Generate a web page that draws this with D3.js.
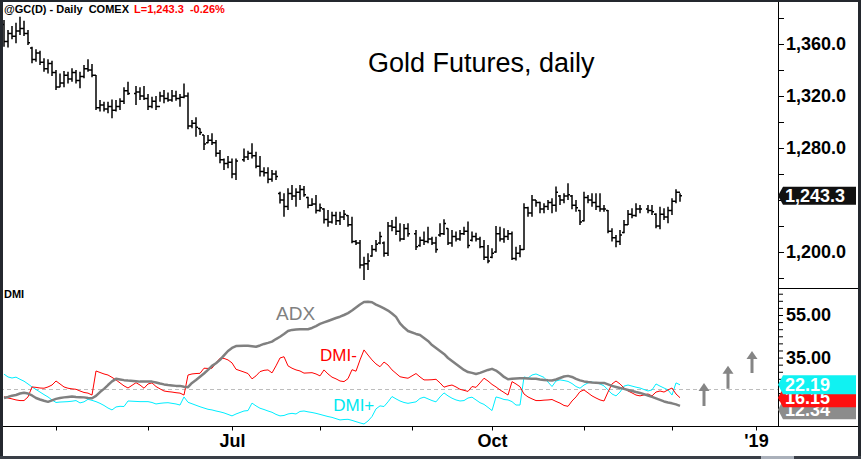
<!DOCTYPE html>
<meta charset="utf-8">
<div id="chart"></div>
<script src="https://d3js.org/d3.v7.min.js"></script>
<style type="text/css">
body { margin: 0; background: #fff; }
text { font-family: "Liberation Sans", Arial, sans-serif; }
.ohlc line { stroke: #000; stroke-width: 1.5; }
.adx { fill: none; stroke: #808080; stroke-width: 2.5; stroke-linejoin: round; }
.dmi-minus { fill: none; stroke: #ff0000; stroke-width: 1; }
.dmi-plus { fill: none; stroke: #00eeff; stroke-width: 1; }
.axis path { display: none; }
.axis line { stroke: #000; }
.axis text { font-weight: bold; fill: #000; }
</style>
<script>

// trading calendar (x axis counts weekdays, exchange holidays leave an empty slot)
var firstDay = "2018-04-12";
var lastSlotDay = "2019-01-04";
var holidays = ["2018-05-28", "2018-07-04", "2018-09-03", "2018-11-22"];
var monthTicks = ["2018-05", "2018-06", "2018-07", "2018-08", "2018-09", "2018-10", "2018-11", "2018-12", "2019-01"];
var monthLabels = ["", "", "Jul", "", "", "Oct", "", "", "'19"];

// daily bars, @GC continuous
var opens = [1375,1362,1368,1366,1370,1372,1368,1357,1348,1353,
1346,1341,1345,1338,1327,1330,1336,1333,1338,1332,
1335,1341,1340,1336,1311,1313,1310,1312,1309,1312,
1316,1324,1322,1323,1320,1318,1312,1316,1312,1320,
1318,1317,1320,1318,1319,1320,1297,1299,1295,1290,
1284,1286,1284,1276,1271,1268,1269,1260,1271,1273,
1276,1274,1266,1262,1261,1256,1260,1245,1240,1235,
1245,1243,1246,1248,1242,1236,1237,1232,1233,1225,
1223,1228,1224,1227,1228,1221,1208,1207,1190,1191,
1197,1202,1207,1207,1199,1220,1219,1216,1210,1218,
1214,1205,1209,1208,1210,1207,1213,1214,1218,1207,
1212,1210,1214,1216,1209,1212,1210,1204,1196,1196,
1200,1214,1210,1212,1214,1195,1199,1202,1234,1230,
1240,1238,1233,1235,1238,1236,1243,1240,1243,1243,
1236,1232,1224,1242,1240,1238,1235,1233,1232,1216,
1211,1208,1215,1221,1229,1228,1233,1233,1232,1229,
1220,1229,1227,1232,1239,1246];
var highs = [1378.5,1370.8,1373.8,1376.4,1381.0,1377.9,1370.8,1357.9,1355.9,1354.9,
1349.0,1348.2,1347.2,1340.0,1337.4,1339.2,1338.7,1341.3,1340.0,1338.7,
1343.8,1348.2,1344.6,1336.2,1316.9,1315.6,1315.6,1317.4,1316.9,1318.2,
1326.7,1331.0,1327.7,1326.7,1327.7,1321.5,1319.5,1320.0,1323.3,1324.6,
1322.6,1324.6,1324.1,1321.5,1329.7,1322.6,1301.5,1303.6,1295.1,1290.0,
1290.0,1291.3,1286.1,1278.5,1272.0,1273.8,1272.0,1272.0,1279.7,1277.9,
1283.6,1277.2,1273.8,1265.1,1265.1,1263.1,1262.6,1246.4,1245.1,1249.0,
1251.5,1249.0,1251.5,1250.8,1242.5,1241.3,1243.8,1237.4,1233.6,1232.3,
1231.0,1231.0,1231.0,1232.3,1228.4,1227.2,1209.2,1209.2,1196.4,1199.0,
1205.4,1209.2,1215.6,1208.0,1223.0,1224.6,1227.2,1222.1,1221.6,1222.1,
1216.9,1211.8,1215.7,1219.5,1211.8,1211.8,1222.1,1225.2,1218.2,1216.9,
1215.7,1216.9,1219.5,1223.4,1215.7,1214.9,1211.8,1209.3,1205.4,1202.8,
1220.0,1219.5,1218.2,1216.9,1215.7,1204.1,1205.4,1237.5,1234.9,1243.9,
1240.0,1238.7,1237.5,1240.0,1241.3,1250.3,1243.9,1245.2,1252.8,1243.9,
1240.0,1232.3,1246.4,1243.9,1245.2,1245.2,1245.2,1236.2,1232.3,1218.2,
1213.1,1216.9,1224.6,1232.3,1233.6,1237.5,1236.2,1236.2,1236.2,1229.8,
1234.9,1233.6,1234.9,1241.3,1248.2,1245.2];
var lows = [1357.9,1357.4,1363.6,1360.5,1366.9,1366.2,1359.2,1345.1,1346.4,1343.8,
1338.7,1337.4,1335.4,1324.6,1326.7,1326.7,1329.7,1331.0,1329.7,1325.9,
1333.6,1338.7,1334.4,1309.2,1308.0,1308.0,1306.7,1302.8,1308.0,1309.2,
1313.8,1320.8,1313.1,1316.9,1316.9,1309.2,1310.5,1309.2,1315.6,1314.4,
1315.6,1315.6,1316.4,1311.8,1318.2,1294.4,1295.1,1288.7,1290.0,1278.5,
1283.6,1282.3,1273.3,1268.2,1263.1,1264.4,1256.7,1255.4,1269.5,1270.8,
1272.0,1264.4,1258.0,1258.0,1252.8,1254.1,1255.4,1237.4,1227.2,1232.3,
1240.0,1234.9,1240.0,1242.5,1233.6,1235.4,1229.7,1231.0,1222.0,1219.5,
1222.0,1220.8,1220.8,1224.6,1219.5,1206.7,1205.4,1187.4,1178.5,1186.1,
1196.4,1200.2,1206.0,1196.4,1197.0,1216.0,1213.1,1208.0,1209.3,1211.8,
1201.6,1204.1,1205.4,1206.7,1205.4,1199.5,1211.8,1213.1,1205.4,1204.1,
1208.0,1208.7,1213.1,1202.8,1208.0,1208.0,1202.8,1193.9,1191.3,1195.2,
1199.5,1208.0,1207.2,1209.3,1193.9,1193.4,1195.9,1201.6,1227.2,1227.2,
1234.9,1229.8,1229.8,1232.3,1229.8,1231.0,1236.2,1237.5,1240.0,1232.8,
1231.0,1220.8,1223.4,1237.5,1234.9,1232.3,1231.0,1231.0,1214.4,1208.0,
1203.6,1205.4,1214.4,1220.8,1225.9,1227.2,1229.8,1229.8,1228.5,1218.2,
1217.5,1224.6,1222.1,1228.5,1237.5,1238.7];
var closes = [1362,1368,1366,1370,1372,1368,1361,1348,1353,1346,
1341,1345,1338,1327,1330,1336,1333,1338,1332,1335,
1341,1340,1336,1311,1313,1310,1312,1309,1312,1316,
1324,1322,1323,1320,1318,1312,1316,1312,1320,1318,
1317,1320,1318,1319,1320,1297,1299,1296,1292,1283,
1286,1284,1276,1271,1268,1269,1260,1270,1273,1276,
1274,1266,1262,1261,1256,1260,1258,1240,1235,1245,
1243,1246,1248,1244,1236,1237,1232,1234,1225,1223,
1228,1224,1227,1229,1221,1208,1207,1190,1191,1193,
1202,1206,1212,1199,1220,1219,1216,1210,1218,1214,
1204,1209,1208,1210,1207,1202,1214,1222,1207,1212,
1210,1214,1216,1205,1212,1210,1204,1196,1193,1199,
1214,1210,1212,1214,1195,1199,1202,1234,1230,1240,
1238,1233,1235,1238,1236,1246,1240,1243,1244,1236,
1234,1223,1242,1240,1238,1235,1233,1233,1216,1211,
1208,1213,1221,1229,1228,1233,1233,1232,1231,1220,
1229,1227,1232,1239,1246,1243.3];

// DMI study
var adx = [16.0,16.5,17.1,17.4,18.1,18.5,18.1,17.2,16.0,15.3,
14.7,14.2,14.9,15.6,16.0,16.3,16.5,16.7,16.5,16.4,
16.3,16.0,15.9,17.0,18.8,20.3,22.1,23.8,25.0,24.7,
24.4,24.2,23.9,23.7,23.7,23.7,23.7,23.3,22.8,22.4,
22.1,21.9,21.7,21.7,21.3,21.1,23.1,24.5,26.0,27.5,
29.2,31.1,32.3,33.9,36.0,38.1,39.5,40.4,40.6,40.5,
40.3,40.1,40.7,41.4,41.9,42.5,43.7,44.8,46.1,47.5,
48.0,48.2,48.3,48.3,48.3,48.9,49.8,50.8,51.5,52.2,
52.9,53.6,54.2,55.0,55.9,57.1,58.5,59.9,61.1,61.2,
61.0,59.9,59.0,58.1,57.1,55.7,54.1,51.1,49.1,47.5,
46.1,45.6,44.2,42.8,40.9,39.5,38.1,36.7,34.8,33.4,
32.0,30.6,29.2,28.2,27.8,27.3,27.8,28.5,29.2,29.7,
28.9,27.5,25.9,24.8,25.0,25.2,25.3,25.3,25.2,25.1,
25.0,24.7,24.5,24.3,24.2,24.7,25.4,26.1,26.4,25.9,
25.0,24.3,23.8,23.5,23.3,23.2,23.1,23.1,22.4,21.7,
21.2,20.7,20.3,19.8,19.3,18.8,18.4,17.2,16.5,15.8,
15.1,14.4,13.9,13.5,13.0,12.34];
var dmiMinus = [16.6,16.0,15.6,15.1,14.8,14.8,16.5,21.2,21.0,20.7,
20.6,21.2,22.1,24.0,22.6,21.2,20.6,20.3,20.1,19.3,
18.6,18.3,17.4,28.7,28.0,27.3,26.8,25.7,24.5,23.1,
21.7,20.7,23.2,22.1,20.6,22.6,23.1,21.4,20.3,19.3,
19.0,18.8,18.5,18.3,17.4,26.8,27.3,27.5,27.6,30.0,
29.9,30.0,32.5,34.7,34.6,33.9,32.5,29.5,28.2,27.5,
25.0,26.4,28.4,29.0,29.2,27.8,31.1,34.8,35.4,31.1,
30.0,29.2,28.7,27.7,27.8,27.9,27.3,26.4,29.2,27.3,
25.8,25.0,24.0,23.7,25.1,29.3,28.6,33.9,38.6,36.2,
33.9,32.0,30.7,32.9,31.5,29.2,27.6,26.0,25.6,25.3,
27.5,25.9,24.5,24.5,24.6,24.8,23.1,21.1,21.7,22.1,
21.2,20.1,19.6,19.1,21.4,21.0,23.1,25.3,24.0,22.4,
21.2,19.8,18.6,17.4,23.7,22.6,21.3,17.9,16.5,15.6,
14.8,14.8,15.0,15.1,15.3,14.4,13.6,12.5,12.1,14.6,
16.5,19.0,19.8,18.4,17.0,16.0,15.1,14.6,18.8,22.6,
24.0,22.6,20.7,19.3,18.4,17.4,17.0,17.9,17.0,18.8,
19.3,18.8,19.8,20.7,17.9,16.15];
var dmiPlus = [27.2,25.9,25.4,25.8,24.8,23.9,22.6,21.2,20.0,18.8,
17.6,16.5,15.1,13.9,14.1,14.2,14.3,14.5,14.8,13.7,
14.2,15.4,14.9,14.3,13.5,12.5,11.3,10.4,11.8,12.1,
12.0,14.6,14.4,14.3,14.3,14.3,13.9,13.2,13.5,13.7,
13.8,13.5,13.2,12.7,16.5,14.0,13.3,12.6,11.9,11.3,
10.7,10.4,9.9,9.5,9.0,8.3,7.6,8.5,9.9,10.1,
13.6,12.3,11.2,10.6,9.9,9.3,8.3,7.6,7.8,8.5,
8.8,8.5,9.7,9.9,9.5,9.2,8.8,8.3,7.8,7.3,
6.9,6.3,5.7,5.9,6.0,5.5,4.9,4.3,3.8,5.2,
7.3,10.9,12.3,12.0,14.2,16.7,15.6,14.6,13.9,13.5,
14.2,15.8,16.4,15.6,14.8,14.2,16.5,18.4,17.0,15.9,
15.1,14.6,14.8,16.0,16.4,15.1,13.8,13.0,11.6,10.1,
16.5,16.0,15.3,15.1,14.3,12.7,12.7,25.9,25.4,26.8,
27.3,26.5,25.7,23.5,21.4,24.0,24.5,24.2,23.8,22.8,
21.4,20.6,22.1,23.1,23.5,23.1,22.6,21.7,19.8,17.9,
17.0,18.8,21.6,22.1,21.6,21.1,20.7,19.3,19.8,22.6,
21.6,20.7,19.8,17.4,23.1,22.19];

var priceTicks = [1180, 1200, 1220, 1240, 1260, 1280, 1300, 1320, 1340, 1360, 1380];
var priceLabels = [1200, 1280, 1320, 1360];   // 1,240.0 sits under the last-price box
var dmiTicks = [15, 18.33, 21.67, 25, 28.33, 31.67, 35, 38.33, 41.67, 45, 48.33, 51.67, 55, 58.33, 61.67, 65];
var dmiLabels = [35, 55];
var adxLevel = 20;

// arrows drawn in the empty space after the last bar (slot, from, to)
var arrowSlots = [175, 181, 187];
var arrowFrom = [12.3, 20.3, 27.8];
var arrowTo = [23.1, 31.1, 38.1];

var W = 861, H = 459;
var axisX = 778, frameR = 858;
var pricePanel = {top: 3, bottom: 288};
var dmiPanel = {top: 289, bottom: 426};

var svg = d3.select("#chart").append("svg")
    .attr("width", W).attr("height", H)
    .style("display", "block");

// ---- calendar -> slots
var fmt = d3.timeFormat("%Y-%m-%d");
var fmtMonth = d3.timeFormat("%Y-%m");
var parse = d3.timeParse("%Y-%m-%d");
var weekdays = d3.timeDay.range(parse(firstDay), d3.timeDay.offset(parse(lastSlotDay), 1))
    .filter(function(d){ return d.getDay() > 0 && d.getDay() < 6; });
var tradeSlots = [];
weekdays.forEach(function(d, i){
  if (holidays.indexOf(fmt(d)) < 0) tradeSlots.push(i);
});
tradeSlots = tradeSlots.slice(0, highs.length);
var tickSlots = monthTicks.map(function(m){
  return weekdays.findIndex(function(d){ return fmtMonth(d) === m; });
});

var x = d3.scaleLinear().domain([-1, 193.5]).range([0, axisX]);
var yP = d3.scaleLinear().domain([1200, 1360]).range([252, 44]);
var yD = d3.scaleLinear().domain([adxLevel, 55]).range([389.5, 315]);

// ---- price panel
var bars = highs.map(function(h, i){
  return {slot: tradeSlots[i], o: opens[i], h: h, l: lows[i], c: closes[i]};
});
var barG = svg.append("g").selectAll(".ohlc")
    .data(bars)
  .enter().append("g")
    .attr("class", "ohlc");
barG.append("line")
    .attr("x1", function(d){ return x(d.slot); })
    .attr("x2", function(d){ return x(d.slot); })
    .attr("y1", function(d){ return yP(d.h); })
    .attr("y2", function(d){ return yP(d.l); });
barG.append("line")
    .attr("x1", function(d){ return x(d.slot) - 2; })
    .attr("x2", function(d){ return x(d.slot); })
    .attr("y1", function(d){ return yP(d.o); })
    .attr("y2", function(d){ return yP(d.o); });
barG.append("line")
    .attr("x1", function(d){ return x(d.slot); })
    .attr("x2", function(d){ return x(d.slot) + 2; })
    .attr("y1", function(d){ return yP(d.c); })
    .attr("y2", function(d){ return yP(d.c); });

svg.append("g")
    .attr("class", "axis")
    .attr("transform", "translate(" + axisX + ",0)")
    .call(d3.axisRight(yP).tickValues(priceTicks).tickSize(6).tickPadding(2)
      .tickFormat(function(d){ return priceLabels.indexOf(d) >= 0 ? d3.format(",.1f")(d) : ""; }))
    .selectAll("text").style("font-size", "18px");

svg.append("text")
    .attr("x", 368).attr("y", 72)
    .style("font-size", "27px")
    .text("Gold Futures, daily");

// ---- DMI panel
svg.append("line")
    .attr("x1", 0).attr("x2", axisX)
    .attr("y1", yD(adxLevel)).attr("y2", yD(adxLevel))
    .attr("stroke", "#bdbdbd").attr("stroke-dasharray", "4,3");

function series(vals){
  return vals.map(function(v, i){ return {slot: tradeSlots[i], v: v}; });
}
var line = d3.line()
    .x(function(d){ return x(d.slot); })
    .y(function(d){ return yD(d.v); });

svg.append("path").datum(series(dmiPlus)).attr("class", "dmi-plus").attr("d", line);
svg.append("path").datum(series(dmiMinus)).attr("class", "dmi-minus").attr("d", line);
svg.append("path").datum(series(adx)).attr("class", "adx").attr("d", line);

svg.append("text").attr("x", x(68)).attr("y", yD(52.7))
    .style("font-size", "19px").attr("fill", "#808080").text("ADX");
svg.append("text").attr("x", x(79)).attr("y", yD(33.4))
    .style("font-size", "17px").attr("fill", "#ff0000").text("DMI-");
svg.append("text").attr("x", x(82.3)).attr("y", yD(9.8))
    .style("font-size", "17px").attr("fill", "#00e8f0").text("DMI+");

svg.append("g")
    .attr("class", "axis")
    .attr("transform", "translate(" + axisX + ",0)")
    .call(d3.axisRight(yD).tickValues(dmiTicks).tickSize(5).tickPadding(3)
      .tickFormat(function(d){ return dmiLabels.indexOf(d) >= 0 ? d3.format(".2f")(d) : ""; }))
    .selectAll("text").style("font-size", "18px");

// up arrows
arrowSlots.forEach(function(s, i){
  var cx = x(s), y0 = yD(arrowFrom[i]), y1 = yD(arrowTo[i]);
  var p = d3.path();
  p.moveTo(cx, y1);
  p.lineTo(cx + 5.5, y1 + 8);
  p.lineTo(cx + 1.5, y1 + 8);
  p.lineTo(cx + 1.5, y0);
  p.lineTo(cx - 1.5, y0);
  p.lineTo(cx - 1.5, y1 + 8);
  p.lineTo(cx - 5.5, y1 + 8);
  p.closePath();
  svg.append("path").attr("d", p.toString()).attr("fill", "#858585");
});

// ---- x axis
svg.append("line")
    .attr("x1", 3).attr("x2", frameR)
    .attr("y1", dmiPanel.bottom + 0.5).attr("y2", dmiPanel.bottom + 0.5)
    .attr("stroke", "#000");
svg.append("g")
    .attr("class", "axis")
    .attr("transform", "translate(0," + (dmiPanel.bottom + 0.5) + ")")
    .call(d3.axisBottom(x).tickValues(tickSlots).tickSize(4).tickPadding(4)
      .tickFormat(function(d, i){ return monthLabels[i]; }))
    .selectAll("text").style("font-size", "18px");

// axis frame
svg.append("line")
    .attr("x1", axisX + 0.5).attr("x2", axisX + 0.5)
    .attr("y1", 0).attr("y2", dmiPanel.bottom)
    .attr("stroke", "#000");
svg.append("line")
    .attr("x1", axisX).attr("x2", frameR)
    .attr("y1", pricePanel.bottom + 0.5).attr("y2", pricePanel.bottom + 0.5)
    .attr("stroke", "#000");

// ---- last value markers
function marker(yc, h, fill, label){
  var x0 = axisX, x1 = axisX + 5, x2 = 856;
  var p = d3.path();
  p.moveTo(x0, yc);
  p.lineTo(x1, yc - h / 2);
  p.lineTo(x2, yc - h / 2);
  p.lineTo(x2, yc + h / 2);
  p.lineTo(x1, yc + h / 2);
  p.closePath();
  svg.append("path").attr("d", p.toString()).attr("fill", fill);
  svg.append("text")
      .attr("x", x0 + 7).attr("y", yc + 6.5)
      .style("font-size", "18px").style("font-weight", "bold")
      .attr("fill", "#fff").text(label);
}
var n = highs.length - 1;
marker(yP(closes[n]), 18, "#111", d3.format(",.1f")(closes[n]));

// DMI markers: drawn bottom-up so the upper ones sit on top, pushed apart a little
var dmiMarks = [
  {v: dmiPlus[n], fill: "#10f2f2"},
  {v: dmiMinus[n], fill: "#ff1010"},
  {v: adx[n], fill: "#8c8c8c"}
];
var prevY = -Infinity;
dmiMarks.forEach(function(m){
  m.y = Math.max(yD(m.v), prevY + 12);
  prevY = m.y;
});
dmiMarks.slice().reverse().forEach(function(m){
  marker(m.y, 19, m.fill, d3.format(".2f")(m.v));
});

// ---- header
svg.append("text")
    .attr("x", 4).attr("y", 13)
    .style("font-size", "11px").style("font-weight", "bold").style("white-space", "pre")
    .text("@GC(D) - Daily  COMEX");
svg.append("text")
    .attr("x", 134).attr("y", 13)
    .style("font-size", "11px").style("font-weight", "bold").style("white-space", "pre")
    .attr("fill", "#ff0000")
    .text("L=" + d3.format(",.1f")(closes[n]) + "  -0.26%");
svg.append("text")
    .attr("x", 4).attr("y", 298)
    .style("font-size", "11px").style("font-weight", "bold")
    .text("DMI");

// window chrome
svg.append("rect").attr("x", 0).attr("y", 0).attr("width", W).attr("height", 2).attr("fill", "#24282e");
svg.append("rect").attr("x", 0).attr("y", 0).attr("width", 3).attr("height", H).attr("fill", "#24282e");
svg.append("rect").attr("x", frameR).attr("y", 0).attr("width", W - frameR).attr("height", H).attr("fill", "#24282e");
svg.append("rect").attr("x", 0).attr("y", 456).attr("width", W).attr("height", 3).attr("fill", "#3a3f47");
svg.append("rect").attr("x", 761).attr("y", 456).attr("width", 33).attr("height", 3).attr("fill", "#aab0ba");
</script>
